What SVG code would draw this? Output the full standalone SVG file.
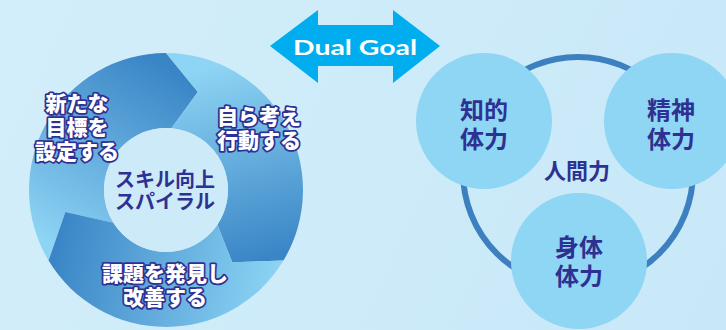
<svg xmlns="http://www.w3.org/2000/svg" width="726" height="330" viewBox="0 0 726 330">
  <defs>
    <linearGradient id="bg" x1="0" y1="0" x2="726" y2="330" gradientUnits="userSpaceOnUse">
      <stop offset="0" stop-color="#d3eefa"/>
      <stop offset="1" stop-color="#c8e8f8"/>
    </linearGradient>
    <linearGradient id="g1" x1="60" y1="250" x2="170" y2="70" gradientUnits="userSpaceOnUse">
      <stop offset="0" stop-color="#8ed4f4"/>
      <stop offset="1" stop-color="#3a85c6"/>
    </linearGradient>
    <linearGradient id="g2" x1="200" y1="70" x2="250" y2="262" gradientUnits="userSpaceOnUse">
      <stop offset="0" stop-color="#8ed4f4"/>
      <stop offset="1" stop-color="#3a85c6"/>
    </linearGradient>
    <linearGradient id="g3" x1="285" y1="275" x2="60" y2="225" gradientUnits="userSpaceOnUse">
      <stop offset="0" stop-color="#8ed6f5"/>
      <stop offset="1" stop-color="#3a85c6"/>
    </linearGradient>
    <style>
      .jp { font-family: "Noto Sans CJK JP", "Noto Sans", sans-serif; font-weight: 700; text-anchor: middle; }
      .out { fill: #ffffff; stroke: #2e3192; stroke-width: 3.5; stroke-linejoin: round; paint-order: stroke; font-size: 21px; font-weight: 900; }
      .navy { fill: #2e3192; }
      .bub { fill: #8fd6f4; }
    </style>
  </defs>

  <rect width="726" height="330" fill="url(#bg)"/>

  <!-- Dual Goal arrow -->
  <g id="dual-goal">
    <polygon points="270,46 318,10 318,25 393,25 393,10 440,46 393,83 393,66 318,66 318,83" fill="#00aeef"/>
    <text x="355" y="55" font-family="Lato, 'Open Sans', sans-serif" font-weight="700" font-size="21" fill="#ffffff" text-anchor="middle" textLength="124" lengthAdjust="spacingAndGlyphs">Dual Goal</text>
  </g>

  <!-- Skill-up spiral -->
  <g id="spiral">
    <g id="seg-goal">
      <path d="M 48.57 260.56 A 137 137 0 0 1 166 53 L 197.83 92.04 L 171.40 128.24 A 62 62 0 0 0 113.42 222.85 L 65.37 211.94 Z" fill="url(#g1)"/>
    </g>
    <g id="seg-act">
      <path d="M 166 53 A 137 137 0 0 1 283.43 260.56 L 232.21 262.26 L 217.40 224.67 A 62 62 0 0 0 171.40 128.24 L 197.83 92.04 Z" fill="url(#g2)"/>
    </g>
    <g id="seg-improve">
      <path d="M 283.43 260.56 A 137 137 0 0 1 48.57 260.56 L 65.37 211.94 L 113.42 222.85 A 62 62 0 0 0 217.40 224.67 L 232.21 262.26 Z" fill="url(#g3)"/>
    </g>
    <g id="spiral-center">
      <circle cx="166" cy="190" r="62" fill="#cdeaf9"/>
      <text class="jp navy" font-size="20" font-weight="900" x="165" y="187">スキル向上</text>
      <text class="jp navy" font-size="20" font-weight="900" x="165" y="209">スパイラル</text>
    </g>
    <g id="label-goal">
      <text class="jp out" x="77" y="111">新たな</text>
      <text class="jp out" x="77" y="135">目標を</text>
      <text class="jp out" x="77" y="159">設定する</text>
    </g>
    <g id="label-act">
      <text class="jp out" x="259" y="124">自ら考え</text>
      <text class="jp out" x="259" y="148">行動する</text>
    </g>
    <g id="label-improve">
      <text class="jp out" x="165" y="281">課題を発見し</text>
      <text class="jp out" x="165" y="305">改善する</text>
    </g>
  </g>

  <!-- Connectors: ring joining the three strengths -->
  <g id="connectors">
    <circle cx="578" cy="172" r="115" fill="none" stroke="#3d80bf" stroke-width="6"/>
  </g>

  <g id="center-label">
    <text class="jp navy" font-size="22" x="577" y="179">人間力</text>
  </g>

  <g id="node-intellect">
    <circle class="bub" cx="484" cy="121" r="68"/>
    <text class="jp navy" font-size="24" x="484" y="119">知的</text>
    <text class="jp navy" font-size="24" x="484" y="148">体力</text>
  </g>
  <g id="node-mental">
    <circle class="bub" cx="672" cy="121" r="68"/>
    <text class="jp navy" font-size="24" x="671" y="119">精神</text>
    <text class="jp navy" font-size="24" x="671" y="148">体力</text>
  </g>
  <g id="node-physical">
    <circle class="bub" cx="579" cy="261" r="68"/>
    <text class="jp navy" font-size="24" x="579" y="256">身体</text>
    <text class="jp navy" font-size="24" x="579" y="285">体力</text>
  </g>
</svg>
